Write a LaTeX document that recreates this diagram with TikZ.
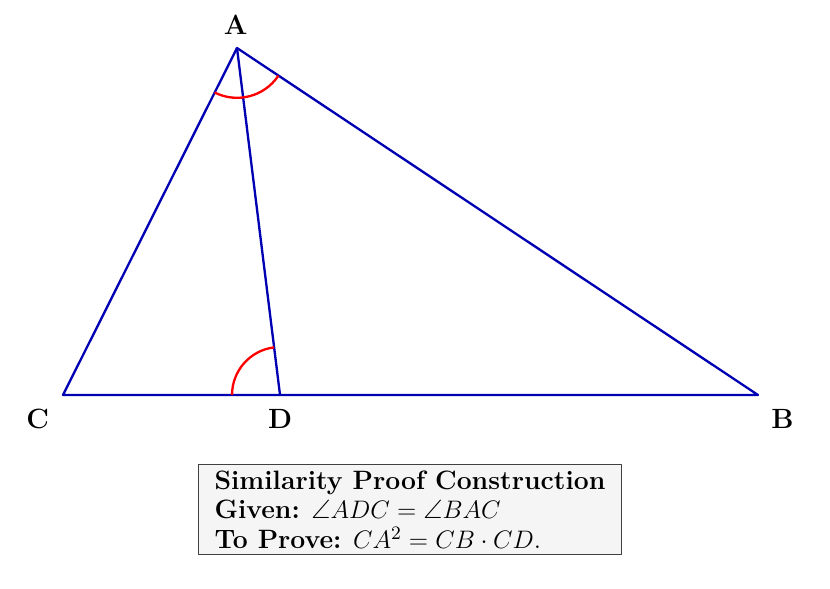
\documentclass[tikz,border=0pt]{standalone}
\usepackage{amsmath,amssymb}
\usetikzlibrary{positioning,calc,angles}

\begin{document}
\begin{tikzpicture}[line join=round,
    side/.style={draw=blue!70!black, line width=1.1pt},
    anglemark/.style={draw=red, line width=1.1pt},
    vlabel/.style={font=\fontsize{13.2}{15}\selectfont\bfseries, inner sep=0pt}]

  \useasboundingbox (0,0) rectangle (13.833,9.8);

  % Points of the triangle
  \coordinate (A) at (3.95,9.0);
  \coordinate (C) at (1.05,3.217);
  \coordinate (D) at (4.667,3.217);
  \coordinate (B) at (12.633,3.217);

  % Sides and the cevian AD
  \draw[side] (C) -- (A) -- (B) -- cycle;
  \draw[side] (A) -- (D);

  % Equal angles
  \pic[anglemark, angle radius=0.83cm] {angle = C--A--B};
  \pic[anglemark, angle radius=0.8cm] {angle = A--D--C};

  % Vertex labels
  \node[vlabel] (lA) at ($(A)+(-0.02,0.38)$) {A};
  \node[vlabel] (lC) at ($(C)+(-0.42,-0.4)$) {C};
  \node[vlabel] (lD) at ($(D)+(0,-0.4)$) {D};
  \node[vlabel] (lB) at ($(B)+(0.41,-0.4)$) {B};

  % Statement box
  \node[draw=black!75, fill=black!4, inner xsep=7.6pt, inner ysep=3pt, align=left,
        font=\fontsize{12.6}{14}\selectfont] (info) at (6.833,1.308)
    {\textbf{Similarity Proof Construction}\\
     \textbf{Given:} $\angle ADC = \angle BAC$\\
     \textbf{To Prove:} $CA^2 = CB \cdot CD$.};

\end{tikzpicture}
\end{document}
